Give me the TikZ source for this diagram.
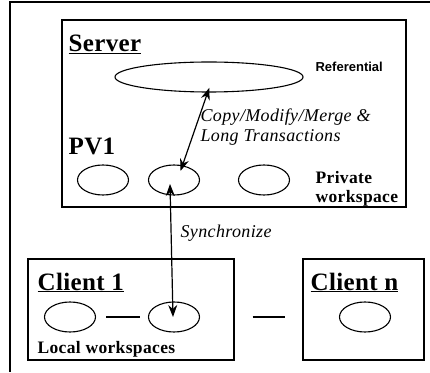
\documentclass[tikz,border=0pt]{standalone}
\usepackage{fontspec}
\setmainfont{Liberation Serif}
\newfontfamily\refsans{Liberation Sans}
\usetikzlibrary{arrows.meta, positioning, shapes.geometric}

\begin{document}
\begin{tikzpicture}[
            x = 1pt, y = 1pt,
            > = {Stealth[length=12pt, width=9pt]}, % arrow head style
            line width = 1.2pt % line style
        ]

        \tikzstyle{box}=[
            draw = black,
            line width = 1.4pt,
            inner sep = 0pt
        ]
        \tikzstyle{ws}=[
            ellipse,
            draw = black,
            line width = 1.1pt,
            minimum width = 51pt,
            minimum height = 30pt
        ]
        \tikzstyle{title}=[
            anchor = base west,
            inner sep = 0pt,
            font = \fontsize{25}{25}\selectfont\bfseries\addfontfeature{LetterSpace=1.5}
        ]
        \tikzstyle{note}=[
            anchor = base west,
            inner sep = 0pt,
            font = \fontsize{17.5}{20}\selectfont\bfseries\addfontfeature{LetterSpace=2}
        ]
        \tikzstyle{action}=[
            anchor = base west,
            inner sep = 0pt,
            font = \fontsize{18}{20}\selectfont\itshape\addfontfeature{LetterSpace=2}
        ]

        \useasboundingbox (0,0) rectangle (430,372);

        % outer frame (only top and left edges show)
        \coordinate (frametl) at (10,370);
        \coordinate (frametr) at (430,370);
        \coordinate (framebl) at (10,0);
        \draw[line width=1.5pt] (frametr) -- (frametl) -- (framebl);

        % server
        \node[box, minimum width=344pt, minimum height=187pt] (server) at (234,258.5) {};
        \node[title] (servername) at (68,320) {\underline{Server}};
        \node[ws, minimum width=188pt] (ref) at (209,295) {};
        \node[anchor=base west, inner sep=0pt, font=\refsans\fontsize{13}{13}\selectfont\bfseries] (reflabel) at (315,300) {Referential};
        \node[title] (pv) at (68,217) {PV1};
        \node[ws] (pw1) at (103,192) {};
        \node[ws] (pw2) at (174,192) {};
        \node[ws] (pw3) at (264,192) {};
        \node[note] (private) at (315,188) {Private};
        \node[note] (privatews) at (315,169) {workspace};

        % clients
        \node[box, minimum width=206pt, minimum height=101pt] (client1) at (131,62.5) {};
        \node[title] (client1name) at (37,82) {\underline{Client 1}};
        \node[ws] (lw1) at (70,55) {};
        \node[ws] (lw2) at (174,55) {};
        \node[note] (local) at (37,19) {Local workspaces};

        \node[box, minimum width=121pt, minimum height=101pt] (clientn) at (363.5,62.5) {};
        \node[title] (clientnname) at (310,82) {\underline{Client n}};
        \node[ws] (lwn) at (365,55) {};

        % connectors
        \draw[<->, shorten <=-5pt, shorten >=-6pt] (ref.265) -- (pw2.60);
        \node[action] (copy) at (200,250) {Copy/Modify/Merge \&};
        \node[action] (longtr) at (200,230) {Long Transactions};

        \draw[<->] ([xshift=-4pt, yshift=-4pt]pw2.center) -- ([xshift=-1pt]lw2.center);
        \node[action] (sync) at (180,135) {Synchronize};

        \draw[shorten <=10pt, shorten >=8pt] (lw1) -- (lw2);
        \draw[shorten <=18pt, shorten >=17pt] (client1.east |- lw2) -- (clientn.west |- lwn);

  \end{tikzpicture}
\end{document}
